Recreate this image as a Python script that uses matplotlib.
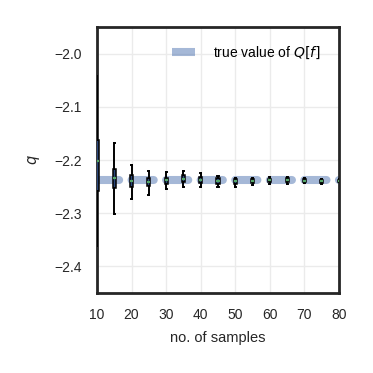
import numpy as np
import matplotlib
matplotlib.use("Agg")
import matplotlib.pyplot as plt

# DATI
n_samples = [10, 15, 20, 25, 30, 35, 40, 45, 50, 55, 60, 65, 70, 75, 80]
medians = [-2.202, -2.234, -2.240, -2.242, -2.238, -2.235, -2.238, -2.240,
           -2.240, -2.240, -2.238, -2.238, -2.239, -2.240, -2.239]
q1 = [-2.258, -2.253, -2.251, -2.249, -2.245, -2.242, -2.243, -2.245,
      -2.246, -2.244, -2.242, -2.242, -2.242, -2.243, -2.241]
q3 = [-2.162, -2.216, -2.228, -2.234, -2.233, -2.229, -2.232, -2.234,
      -2.236, -2.236, -2.235, -2.234, -2.236, -2.237, -2.237]
whis_lo = [-2.362, -2.302, -2.273, -2.265, -2.254, -2.250, -2.250, -2.250,
           -2.250, -2.247, -2.245, -2.245, -2.243, -2.245, -2.242]
whis_hi = [-2.042, -2.168, -2.210, -2.221, -2.223, -2.221, -2.225, -2.230,
           -2.233, -2.234, -2.232, -2.231, -2.234, -2.235, -2.236]
true_value = -2.2375

plt.rcParams['font.family'] = ['Liberation Sans', 'DejaVu Sans']
plt.rcParams['font.size'] = 10
plt.rcParams['mathtext.fontset'] = 'dejavusans'

fig = plt.figure(figsize=(3.73, 3.73), dpi=100)
ax = fig.add_axes([0.260, 0.2145, 0.649, 0.713])

# VALORE VERO (linea tratteggiata spessa)
line, = ax.plot([10, 80], [true_value, true_value], color='#4C72B0', alpha=0.5,
                lw=5.8, dashes=(2.75, 1.54), dash_capstyle='round',
                label='true value of $Q[f]$', zorder=2)

# BOXPLOT
stats = []
for i in range(len(n_samples)):
    stats.append({'med': medians[i], 'q1': q1[i], 'q3': q3[i],
                  'whislo': whis_lo[i], 'whishi': whis_hi[i], 'fliers': []})

ax.bxp(stats, positions=n_samples, widths=0.9, capwidths=0.3, patch_artist=True,
       showfliers=False, manage_ticks=False, zorder=3,
       boxprops=dict(facecolor='#2a467a', edgecolor='black', lw=1.1),
       whiskerprops=dict(color='black', lw=1.4),
       capprops=dict(color='black', lw=1.4),
       medianprops=dict(color='#55A868', lw=1.6))

ax.set_xlim(10, 80)
ax.set_ylim(-2.45, -1.95)
ax.set_xticks(np.arange(10, 81, 10))
ax.set_yticks([-2.4, -2.3, -2.2, -2.1, -2.0])
ax.set_yticklabels(['\u22122.4', '\u22122.3', '\u22122.2', '\u22122.1', '\u22122.0'])
ax.grid(True, color='#ebebeb', lw=1.0, zorder=0)
ax.set_axisbelow(True)
ax.tick_params(length=0, pad=11, labelsize=10, colors='#262626')
for s in ax.spines.values():
    s.set_color('#262626')
    s.set_linewidth(2.0)

ax.set_xlabel('no. of samples', labelpad=6, color='#262626', fontsize=10.5)
ax.set_ylabel('$q$', labelpad=9, color='#262626', fontsize=10.5)

leg = ax.legend(loc='upper right', frameon=False, handlelength=1.7,
                handletextpad=1.3, fontsize=10, borderaxespad=0.9)
for h in leg.get_lines():
    h.set_linestyle('-')
    h.set_solid_capstyle('butt')

fig.savefig('out.png', dpi=100)
